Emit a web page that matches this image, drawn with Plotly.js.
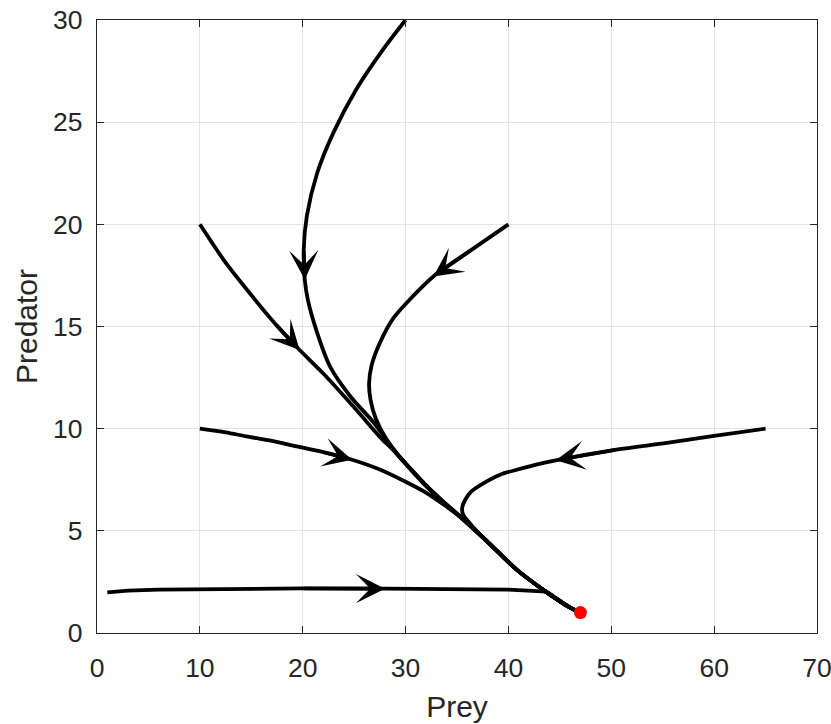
<!DOCTYPE html>
<html>
<head>
<meta charset="utf-8">
<script src="https://cdn.plot.ly/plotly-3.0.1.min.js"></script>
<style>
  html, body { margin: 0; padding: 0; background: #ffffff; }
  #chart { width: 831px; height: 724px; }
</style>
</head>
<body>
<div id="chart"></div>
<script>
// Trajectory from (30, 30)
const t1X = [30, 27.8, 25.2, 23.0, 21.4, 20.4, 20.1, 20.2, 20.5, 21.4, 22.65, 24.6, 26.9, 28.8, 30.4, 32.05, 33.7, 35.3, 38.0, 40.8, 43.7, 46.0, 47];
const t1Y = [30, 28.55, 26.6, 24.5, 22.5, 20.4, 18.76, 17.3, 16.3, 14.7, 13.05, 11.6, 10.3, 9.0, 8.07, 7.18, 6.4, 5.7, 4.45, 3.1, 2.0, 1.24, 1.0];
// Trajectory from (10, 20)
const t2X = [10, 12.4, 14.9, 17.3, 19.7, 22.0, 25.25, 27.5, 28.8, 30.4, 32.05, 33.7, 35.3, 38.0, 40.8, 43.7, 46.0, 47];
const t2Y = [20, 18.2, 16.6, 15.15, 13.85, 12.7, 10.9, 9.6, 8.95, 8.05, 7.16, 6.38, 5.69, 4.45, 3.1, 2.0, 1.24, 1.0];
// Trajectory from (40, 20)
const t3X = [40, 36.4, 32.7, 30.75, 28.8, 27.5, 26.7, 26.45, 26.6, 27.1, 28.0, 29.3, 30.4, 32.05, 33.7, 35.3, 38.0, 40.8, 43.7, 46.0, 47];
const t3Y = [20, 18.75, 17.45, 16.5, 15.4, 14.2, 13.1, 12.2, 11.4, 10.5, 9.6, 8.7, 8.09, 7.2, 6.42, 5.71, 4.45, 3.1, 2.0, 1.24, 1.0];
// Trajectory from (10, 10)
const t4X = [10, 12.5, 14.55, 17.0, 19.4, 22.0, 24.8, 27.5, 30.0, 32.05, 33.8, 35.3, 38.0, 40.8, 43.7, 46.0, 47];
const t4Y = [10, 9.82, 9.62, 9.4, 9.13, 8.85, 8.48, 8.0, 7.4, 6.85, 6.25, 5.68, 4.45, 3.1, 2.0, 1.24, 1.0];
// Trajectory from (65, 10)
const t5X = [65, 60, 55.4, 50.5, 44.6, 42.5, 40.8, 39.2, 37.6, 36.4, 35.8, 35.5, 35.6, 36.1, 36.9, 38.0, 40.8, 43.7, 46.0, 47];
const t5Y = [10, 9.65, 9.3, 8.97, 8.45, 8.22, 7.99, 7.75, 7.34, 6.93, 6.52, 6.12, 5.79, 5.46, 5.0, 4.45, 3.1, 2.0, 1.24, 1.0];
// Trajectory from (1, 2)
const t6X = [1, 3, 6, 10, 15, 20, 28, 35, 40, 43.7, 46.0, 47];
const t6Y = [1.99, 2.07, 2.12, 2.15, 2.17, 2.18, 2.17, 2.15, 2.12, 2.03, 1.24, 1.0];
// Equilibrium point
const eqX = [47];
const eqY = [1];
// Arrow positions: index of the arrow tip in each trajectory (tail = previous point)
const trajX = [t1X, t2X, t3X, t4X, t5X, t6X];
const trajY = [t1Y, t2Y, t3Y, t4Y, t5Y, t6Y];
const arrowIdx = [7, 4, 2, 6, 4, 6];
// Tick values
const xTicks = [0, 10, 20, 30, 40, 50, 60, 70];
const yTicks = [0, 5, 10, 15, 20, 25, 30];

const traces = trajX.map((xs, i) => ({
  x: xs, y: trajY[i], type: 'scatter', mode: 'lines',
  line: { color: '#000000', width: 3.8, shape: i === 5 ? 'linear' : 'spline', smoothing: 0.8 },
  hoverinfo: 'skip', showlegend: false
}));
traces.push({
  x: eqX, y: eqY, type: 'scatter', mode: 'markers',
  marker: { color: '#ff0000', size: 13, line: { width: 0 } },
  showlegend: false
});

const annotations = arrowIdx.map((k, i) => ({
  x: trajX[i][k], y: trajY[i][k],
  ax: trajX[i][k - 1], ay: trajY[i][k - 1],
  xref: 'x', yref: 'y', axref: 'x', ayref: 'y',
  showarrow: true, arrowhead: 3, arrowsize: 1.35, arrowwidth: 3.6,
  arrowcolor: '#000000', text: '', standoff: 0, startstandoff: 0
}));

const axisFont = { family: 'Arial, "Liberation Sans", sans-serif', size: 26.5, color: '#262626' };
const titleFont = { family: 'Arial, "Liberation Sans", sans-serif', size: 30, color: '#262626' };

const layout = {
  width: 831, height: 724,
  margin: { l: 97, r: 14, t: 20, b: 91 },
  paper_bgcolor: '#ffffff', plot_bgcolor: '#ffffff',
  showlegend: false,
  xaxis: {
    range: [0, 70], tickvals: xTicks, ticktext: xTicks.map(String),
    ticks: 'inside', ticklen: 7, tickwidth: 1, tickcolor: '#262626',
    showline: true, linecolor: '#262626', linewidth: 1.3, mirror: 'ticks',
    showgrid: true, gridcolor: '#e3e3e3', gridwidth: 1, zeroline: false,
    tickfont: axisFont, ticklabelstandoff: 11, ticklabeloverflow: 'allow',
    title: { text: 'Prey', font: titleFont, standoff: 14 }
  },
  yaxis: {
    range: [0, 30], tickvals: yTicks, ticktext: yTicks.map(String),
    ticks: 'inside', ticklen: 7, tickwidth: 1, tickcolor: '#262626',
    showline: true, linecolor: '#262626', linewidth: 1.3, mirror: 'ticks',
    showgrid: true, gridcolor: '#e3e3e3', gridwidth: 1, zeroline: false,
    tickfont: axisFont, ticklabelstandoff: 8, ticklabeloverflow: 'allow',
    title: { text: 'Predator', font: titleFont, standoff: 6 }
  },
  annotations: annotations
};

Plotly.newPlot('chart', traces, layout, { displayModeBar: false, staticPlot: true });
</script>
</body>
</html>
